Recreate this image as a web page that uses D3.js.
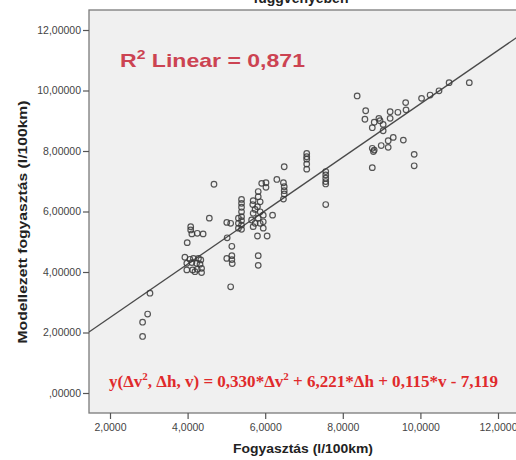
<!DOCTYPE html>
<html>
<head>
<meta charset="utf-8">
<script src="https://cdn.jsdelivr.net/npm/d3@7"></script>
<style>
  body { margin: 0; background: #fff; }
  svg { display: block; font-family: Arial, "Liberation Sans", sans-serif; }
</style>
</head>
<body>
<div id="chart"></div>
<script>
// measured fuel use (x) and modelled fuel use (y), l/100km
const fogyasztas = [
  2.84, 2.84, 2.97, 3.03,
  3.93, 4.06, 4.15, 4.28, 4.34, 3.98, 4.11, 4.23, 4.32, 3.98, 4.13, 4.25, 4.36, 4.36, 4.19,
  3.99, 4.08, 4.08, 4.11, 4.25, 4.40, 4.56, 4.68,
  5.01, 5.11, 5.02, 5.14, 5.01, 5.14, 5.14, 5.15, 5.11,
  5.39, 5.39, 5.39, 5.39, 5.39, 5.39, 5.39, 5.39, 5.31, 5.31, 5.31,
  5.69, 5.69, 5.69, 5.68, 5.74, 5.74, 5.65, 5.82, 5.82, 5.82, 5.87, 5.87, 5.87, 5.80,
  5.91, 6.02, 6.02, 5.95, 5.95, 5.95, 6.19, 5.80, 6.05, 6.30, 6.47, 6.49, 6.49, 6.49, 6.47,
  5.82, 5.82, 6.49,
  7.07, 7.07, 7.07, 7.07, 7.07, 7.56, 7.56, 7.56, 7.56, 7.56, 7.56,
  8.37, 8.59, 8.57, 8.76, 8.81, 8.93, 8.96, 9.04, 9.04, 9.22, 9.22, 9.42, 9.62, 9.63,
  10.03, 10.25, 10.48, 10.74, 11.26,
  9.30, 9.17, 9.17, 8.99, 8.76, 8.79, 8.81, 9.56, 8.76, 9.84, 9.84
];
const modellezett = [
  1.87, 2.34, 2.61, 3.30,
  4.49, 4.42, 4.45, 4.45, 4.40, 4.29, 4.31, 4.29, 4.26, 4.07, 4.07, 4.09, 4.12, 3.98, 4.01,
  4.97, 5.50, 5.39, 5.26, 5.28, 5.26, 5.78, 6.90,
  5.64, 5.61, 5.13, 4.85, 4.45, 4.54, 4.41, 4.28, 3.51,
  6.40, 6.27, 6.14, 5.99, 5.83, 5.70, 5.55, 5.41, 5.78, 5.61, 5.45,
  6.36, 5.94, 5.50, 6.23, 6.07, 5.61, 5.72, 6.66, 6.49, 5.78, 6.32, 5.99, 5.61, 6.16,
  6.93, 6.95, 6.80, 5.88, 5.66, 5.45, 5.88, 5.19, 5.19, 7.06, 6.95, 6.82, 6.69, 6.58, 6.41,
  4.54, 4.22, 7.48,
  7.92, 7.81, 7.73, 7.57, 7.40, 7.32, 7.21, 7.10, 6.99, 6.91, 6.23,
  9.82, 9.33, 9.05, 8.77, 8.95, 9.08, 9.00, 8.88, 8.67, 9.30, 9.08, 9.28, 9.60, 9.36,
  9.74, 9.85, 9.99, 10.26, 10.26,
  8.45, 8.34, 8.12, 8.18, 8.09, 7.98, 8.03, 8.36, 7.45, 7.89, 7.51
];
const xTicks = [2, 4, 6, 8, 10, 12];
const yTicks = [0, 2, 4, 6, 8, 10, 12];
// fitted line: y = a + b*x
const fitIntercept = 0.729;
const fitSlope = 0.883;

const width = 516;
const height = 460;
const plot = { left: 89, top: 10, right: 530, bottom: 413 };

const svg = d3.select("#chart")
  .append("svg")
  .attr("width", width)
  .attr("height", height);

const x = d3.scaleLinear().domain([2, 12]).range([110, 498]);
const y = d3.scaleLinear().domain([0, 12]).range([393, 30]);

const comma = (digits) => (d) => {
  let s = d3.format(`.${digits}f`)(d).replace(".", ",");
  if (d === 0) s = s.slice(1);
  return s;
};

svg.append("defs").append("clipPath").attr("id", "plotclip")
  .append("rect")
  .attr("x", plot.left).attr("y", plot.top)
  .attr("width", plot.right - plot.left).attr("height", plot.bottom - plot.top);

svg.append("rect")
  .attr("x", plot.left).attr("y", plot.top)
  .attr("width", plot.right - plot.left).attr("height", plot.bottom - plot.top)
  .attr("fill", "#f0f0f0")
  .attr("stroke", "#7a7a7a")
  .attr("stroke-width", 1.3);

// axes
const yAxis = d3.axisLeft(y).tickValues(yTicks).tickSize(6).tickPadding(2).tickFormat(comma(5));
const gy = svg.append("g").attr("transform", `translate(${plot.left},0)`).call(yAxis);
const xAxis = d3.axisBottom(x).tickValues(xTicks).tickSize(6).tickPadding(5).tickFormat(comma(4));
const gx = svg.append("g").attr("transform", `translate(0,${plot.bottom})`).call(xAxis);
[gx, gy].forEach((g) => {
  g.select(".domain").remove();
  g.selectAll(".tick line").attr("stroke", "#555").attr("stroke-width", 1.2);
  g.selectAll(".tick text")
    .attr("fill", "#444")
    .attr("font-size", 10.5)
    .attr("font-family", "Arial, 'Liberation Sans', sans-serif");
});

// regression line
const fitData = [x.invert(plot.left), x.invert(plot.right)].map((v) => [v, fitIntercept + fitSlope * v]);
svg.append("path")
  .datum(fitData)
  .attr("clip-path", "url(#plotclip)")
  .attr("d", d3.line().x((d) => x(d[0])).y((d) => y(d[1])))
  .attr("fill", "none")
  .attr("stroke", "#4a4a4a")
  .attr("stroke-width", 1.3);

// points
const points = fogyasztas.map((v, i) => [v, modellezett[i]]);
svg.append("g")
  .selectAll("circle")
  .data(points)
  .enter()
  .append("circle")
  .attr("cx", (d) => x(d[0]))
  .attr("cy", (d) => y(d[1]))
  .attr("r", 2.8)
  .attr("fill", "none")
  .attr("stroke", "#3a3a3a")
  .attr("stroke-opacity", 0.85)
  .attr("stroke-width", 1.2);

// R squared label
const r2 = svg.append("text")
  .attr("x", 120).attr("y", 67)
  .attr("fill", "#cc4352")
  .attr("font-weight", "bold")
  .attr("font-size", 19)
  .attr("textLength", 185)
  .attr("lengthAdjust", "spacingAndGlyphs");
r2.append("tspan").text("R");
r2.append("tspan").attr("dy", -8).attr("font-size", 13).text("2");
r2.append("tspan").attr("dy", 8).text(" Linear = 0,871");

// model equation
const eq = svg.append("text")
  .attr("x", 109).attr("y", 387)
  .attr("fill", "#e02a2c")
  .attr("font-weight", "bold")
  .attr("font-family", "'Liberation Serif', 'Times New Roman', serif")
  .attr("font-size", 17)
  .attr("textLength", 389)
  .attr("lengthAdjust", "spacingAndGlyphs");
eq.append("tspan").text("y(\u0394v");
eq.append("tspan").attr("dy", -7).attr("font-size", 11).text("2");
eq.append("tspan").attr("dy", 7).text(", \u0394h, v) = 0,330*\u0394v");
eq.append("tspan").attr("dy", -7).attr("font-size", 11).text("2");
eq.append("tspan").attr("dy", 7).text(" + 6,221*\u0394h + 0,115*v - 7,119");

// titles
svg.append("text")
  .attr("x", 301).attr("y", 3)
  .attr("text-anchor", "middle")
  .attr("font-weight", "bold")
  .attr("font-size", 14)
  .attr("fill", "#222")
  .text("függvényében");

svg.append("text")
  .attr("x", 303).attr("y", 453)
  .attr("text-anchor", "middle")
  .attr("font-weight", "bold")
  .attr("font-size", 13.5)
  .attr("fill", "#222")
  .attr("textLength", 140)
  .attr("lengthAdjust", "spacingAndGlyphs")
  .text("Fogyasztás (l/100km)");

svg.append("text")
  .attr("transform", "translate(27,222) rotate(-90)")
  .attr("text-anchor", "middle")
  .attr("font-weight", "bold")
  .attr("font-size", 13.5)
  .attr("fill", "#222")
  .attr("textLength", 243)
  .attr("lengthAdjust", "spacingAndGlyphs")
  .text("Modellezett fogyasztás (l/100km)");
</script>
</body>
</html>
